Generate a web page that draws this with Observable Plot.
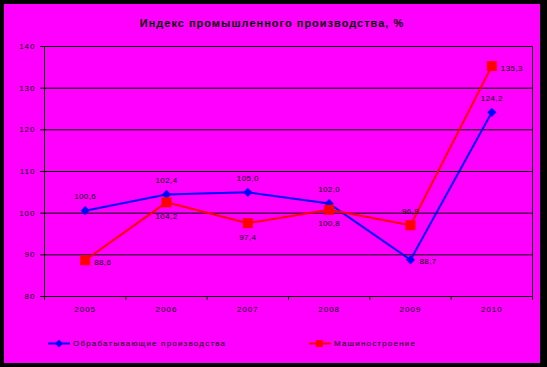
<!DOCTYPE html>
<html><head><meta charset="utf-8">
<script src="https://cdn.jsdelivr.net/npm/d3@7"></script>
<script src="https://cdn.jsdelivr.net/npm/@observablehq/plot@0.6"></script>
<style>
body{margin:0;background:#000;}
#wrap{position:relative;width:547px;height:367px;background:#000;overflow:hidden;}
#inner{position:absolute;left:4px;top:4px;width:536px;height:359px;background:#ff00ff;}
#title{position:absolute;left:4px;width:536px;top:17px;text-align:center;font:bold 11px "Liberation Sans",Arial,sans-serif;letter-spacing:1px;color:#000;}
#chart{position:absolute;left:0;top:0;}
#chart svg text{letter-spacing:1px;}
#chart svg g[aria-label="text"] text{letter-spacing:0.4px;}
.leg{position:absolute;top:337px;height:12px;display:flex;align-items:center;font:8px "Liberation Sans",Arial,sans-serif;letter-spacing:1.2px;color:#000;}
.leg svg{margin-right:3px;}
</style></head>
<body>
<div id="wrap">
  <div id="inner"></div>
  <div id="title"></div>
  <div id="chart"></div>
  <div id="leg1" class="leg" style="left:48px"></div>
  <div id="leg2" class="leg" style="left:309px"></div>
</div>
<script>
const title = "Индекс промышленного производства, %";
const years = ["2005","2006","2007","2008","2009","2010"];
const seriesNames = ["Обрабатывающие производства","Машиностроение"];
const manufacturing = [100.6, 104.5, 105.0, 102.3, 88.8, 124.2];
const manufacturingLabels = ["100,6","102,4","105,0","102,0","88,7","124,2"];
const machinery = [88.7, 102.6, 97.6, 100.8, 97.1, 135.3];
const machineryLabels = ["88,6","104,2","97,4","100,8","96,9","135,3"];
const yTicks = [80, 90, 100, 110, 120, 130, 140];

// label placement (Excel style)
const manufacturingPlace = ["above","above","above","above","right","above"];
const machineryPlace = ["right","below","below","below","above","right"];

const blue = "#0000ff", red = "#ff0000";
const diamond = {draw(ctx){ctx.moveTo(0,-4.6);ctx.lineTo(4.6,0);ctx.lineTo(0,4.6);ctx.lineTo(-4.6,0);ctx.closePath();}};
const square = {draw(ctx){ctx.moveTo(-5,-5);ctx.lineTo(5,-5);ctx.lineTo(5,5);ctx.lineTo(-5,5);ctx.closePath();}};

const mk = (vals, labels, place) => vals.map((v,i)=>({i, v, label: labels[i], place: place[i]}));
const A = mk(manufacturing, manufacturingLabels, manufacturingPlace);
const B = mk(machinery, machineryLabels, machineryPlace);

function labelMarks(data){
  const f = p => data.filter(d=>d.place===p);
  return [
    Plot.text(f("above"), {x:"i", y:"v", text:"label", dy:-14, fill:"#000"}),
    Plot.text(f("below"), {x:"i", y:"v", text:"label", dy:14, fill:"#000"}),
    Plot.text(f("right"), {x:"i", y:"v", text:"label", dx:9, dy:2, textAnchor:"start", fill:"#000"})
  ];
}

document.getElementById("title").textContent = title;

const chart = Plot.plot({
  width: 547, height: 367,
  marginLeft: 44, marginRight: 15, marginTop: 46, marginBottom: 71,
  style: {background:"transparent", fontFamily:"Liberation Sans, Arial, sans-serif", fontSize:"8px", color:"#000", overflow:"visible"},
  x: {domain:[-0.5, years.length-0.5], axis:null},
  y: {domain:[80,140], axis:null},
  marks: [
    Plot.ruleY(yTicks.slice(1,-1), {stroke:"#000", strokeWidth:1}),
    Plot.frame({stroke:"#000", strokeWidth:1}),
    Plot.axisY({ticks:yTicks, tickSize:4, tickPadding:5, tickFormat:d=>String(d), strokeOpacity:1, label:null}),
    Plot.axisX({ticks:d3.range(years.length), tickSize:0, tickPadding:10, tickFormat:i=>years[i], label:null}),
    Plot.axisX({ticks:d3.range(-0.5, years.length), tickSize:4, tickFormat:()=>"", strokeOpacity:1, label:null}),
    Plot.line(A, {x:"i", y:"v", stroke:blue, strokeWidth:2}),
    Plot.line(B, {x:"i", y:"v", stroke:red, strokeWidth:2}),
    Plot.dot(A, {x:"i", y:"v", symbol:diamond, fill:blue, stroke:"none"}),
    Plot.dot(B, {x:"i", y:"v", symbol:square, fill:red, stroke:"none"}),
    ...labelMarks(A),
    ...labelMarks(B)
  ]
});
document.getElementById("chart").appendChild(chart);

function swatch(color, sym){
  const s = d3.create("svg").attr("width",22).attr("height",11);
  s.append("line").attr("x1",0).attr("x2",22).attr("y1",5.5).attr("y2",5.5).attr("stroke",color).attr("stroke-width",2);
  if(sym==="diamond") s.append("path").attr("d","M11,1.5L15,5.5L11,9.5L7,5.5Z").attr("fill",color);
  else s.append("rect").attr("x",7).attr("y",2).attr("width",7).attr("height",7).attr("fill",color);
  return s.node();
}
const l1 = document.getElementById("leg1");
l1.appendChild(swatch(blue,"diamond")); l1.appendChild(document.createTextNode(seriesNames[0]));
const l2 = document.getElementById("leg2");
l2.appendChild(swatch(red,"square")); l2.appendChild(document.createTextNode(seriesNames[1]));
</script>
</body></html>
